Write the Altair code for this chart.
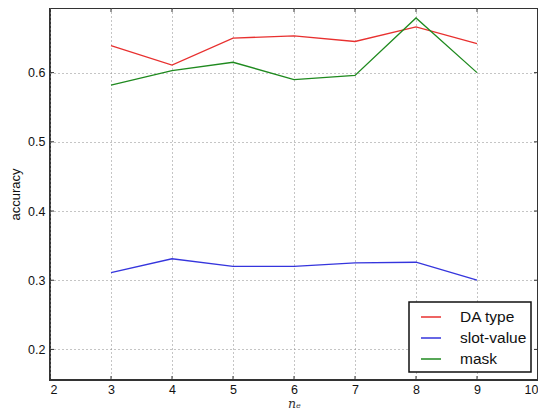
import altair as alt
import pandas as pd

n_values = [3, 4, 5, 6, 7, 8, 9]
da_type = [0.639, 0.611, 0.650, 0.653, 0.645, 0.666, 0.642]
slot_value = [0.311, 0.331, 0.320, 0.320, 0.325, 0.326, 0.300]
mask = [0.582, 0.603, 0.615, 0.590, 0.596, 0.679, 0.600]

series_names = ["DA type", "slot-value", "mask"]
series_colors = ["#e8302f", "#3535dd", "#1f8a1f"]
x_ticks = [2, 3, 4, 5, 6, 7, 8, 9, 10]
y_ticks = [0.2, 0.3, 0.4, 0.5, 0.6]

rows = []
for name, vals in zip(series_names, [da_type, slot_value, mask]):
    for n, v in zip(n_values, vals):
        rows.append({"series": name, "n": n, "acc": v})
df = pd.DataFrame(rows)

W, H = 488, 372
FONT = "Liberation Sans"

xscale = alt.Scale(domain=[2, 10], nice=False, zero=False)
yscale = alt.Scale(domain=[0.1558, 0.6934], nice=False, zero=False)

lines = alt.Chart(df).mark_line(strokeWidth=1.3).encode(
    x=alt.X("n:Q", scale=xscale,
            axis=alt.Axis(values=x_ticks, format="d", title="nₑ", grid=True,
                          gridDash=[1, 3], gridColor="#8a8a8a", gridWidth=1,
                          ticks=False, domain=False, labelFontSize=12.5,
                          labelFont=FONT, labelColor="#111", labelPadding=3,
                          titleFont="DejaVu Serif", titleFontStyle="italic",
                          titleFontWeight="normal", titleFontSize=12.5,
                          titleColor="#333", titleY=27,
                          titleBaseline="alphabetic")),
    y=alt.Y("acc:Q", scale=yscale,
            axis=alt.Axis(values=y_ticks, format=".1f", title="accuracy",
                          grid=True, gridDash=[1, 3], gridColor="#8a8a8a",
                          gridWidth=1, ticks=False, domain=False,
                          labelFontSize=12.5, labelFont=FONT,
                          labelColor="#111", labelPadding=5,
                          titleFont=FONT, titleFontWeight="normal",
                          titleFontSize=13, titleColor="#111",
                          titleX=-31, titleBaseline="alphabetic")),
    color=alt.Color("series:N",
                    scale=alt.Scale(domain=series_names, range=series_colors),
                    sort=series_names,
                    legend=alt.Legend(title=None, orient="none",
                                      legendX=359, legendY=294,
                                      symbolType="stroke", symbolSize=400,
                                      symbolStrokeWidth=1.5, symbolOffset=7,
                                      labelFont=FONT, labelFontSize=15.5,
                                      labelColor="#111", labelOffset=18,
                                      padding=4, rowPadding=1,
                                      strokeColor="#111", fillColor="white")),
)

xt = pd.DataFrame({"n": x_ticks})
yt = pd.DataFrame({"acc": y_ticks})
tick_color = "#333"

bottom_ticks = alt.Chart(xt).mark_rule(color=tick_color, strokeWidth=1).encode(
    x=alt.X("n:Q", scale=xscale), y=alt.value(H), y2=alt.value(H - 4))
top_ticks = alt.Chart(xt).mark_rule(color=tick_color, strokeWidth=1).encode(
    x=alt.X("n:Q", scale=xscale), y=alt.value(0), y2=alt.value(4))
left_ticks = alt.Chart(yt).mark_rule(color=tick_color, strokeWidth=1).encode(
    y=alt.Y("acc:Q", scale=yscale), x=alt.value(0), x2=alt.value(4))
right_ticks = alt.Chart(yt).mark_rule(color=tick_color, strokeWidth=1).encode(
    y=alt.Y("acc:Q", scale=yscale), x=alt.value(W), x2=alt.value(W - 4))

chart = alt.layer(lines, bottom_ticks, top_ticks, left_ticks, right_ticks).properties(
    width=W, height=H,
    autosize=alt.AutoSizeParams(type="none"),
    padding={"left": 42, "top": 0, "right": 0, "bottom": 31},
).configure_view(
    stroke="#333", strokeWidth=2
).configure_legend(
    strokeWidth=1.5
)

chart.save("out.html", embed_options={"renderer": "svg", "actions": False})
